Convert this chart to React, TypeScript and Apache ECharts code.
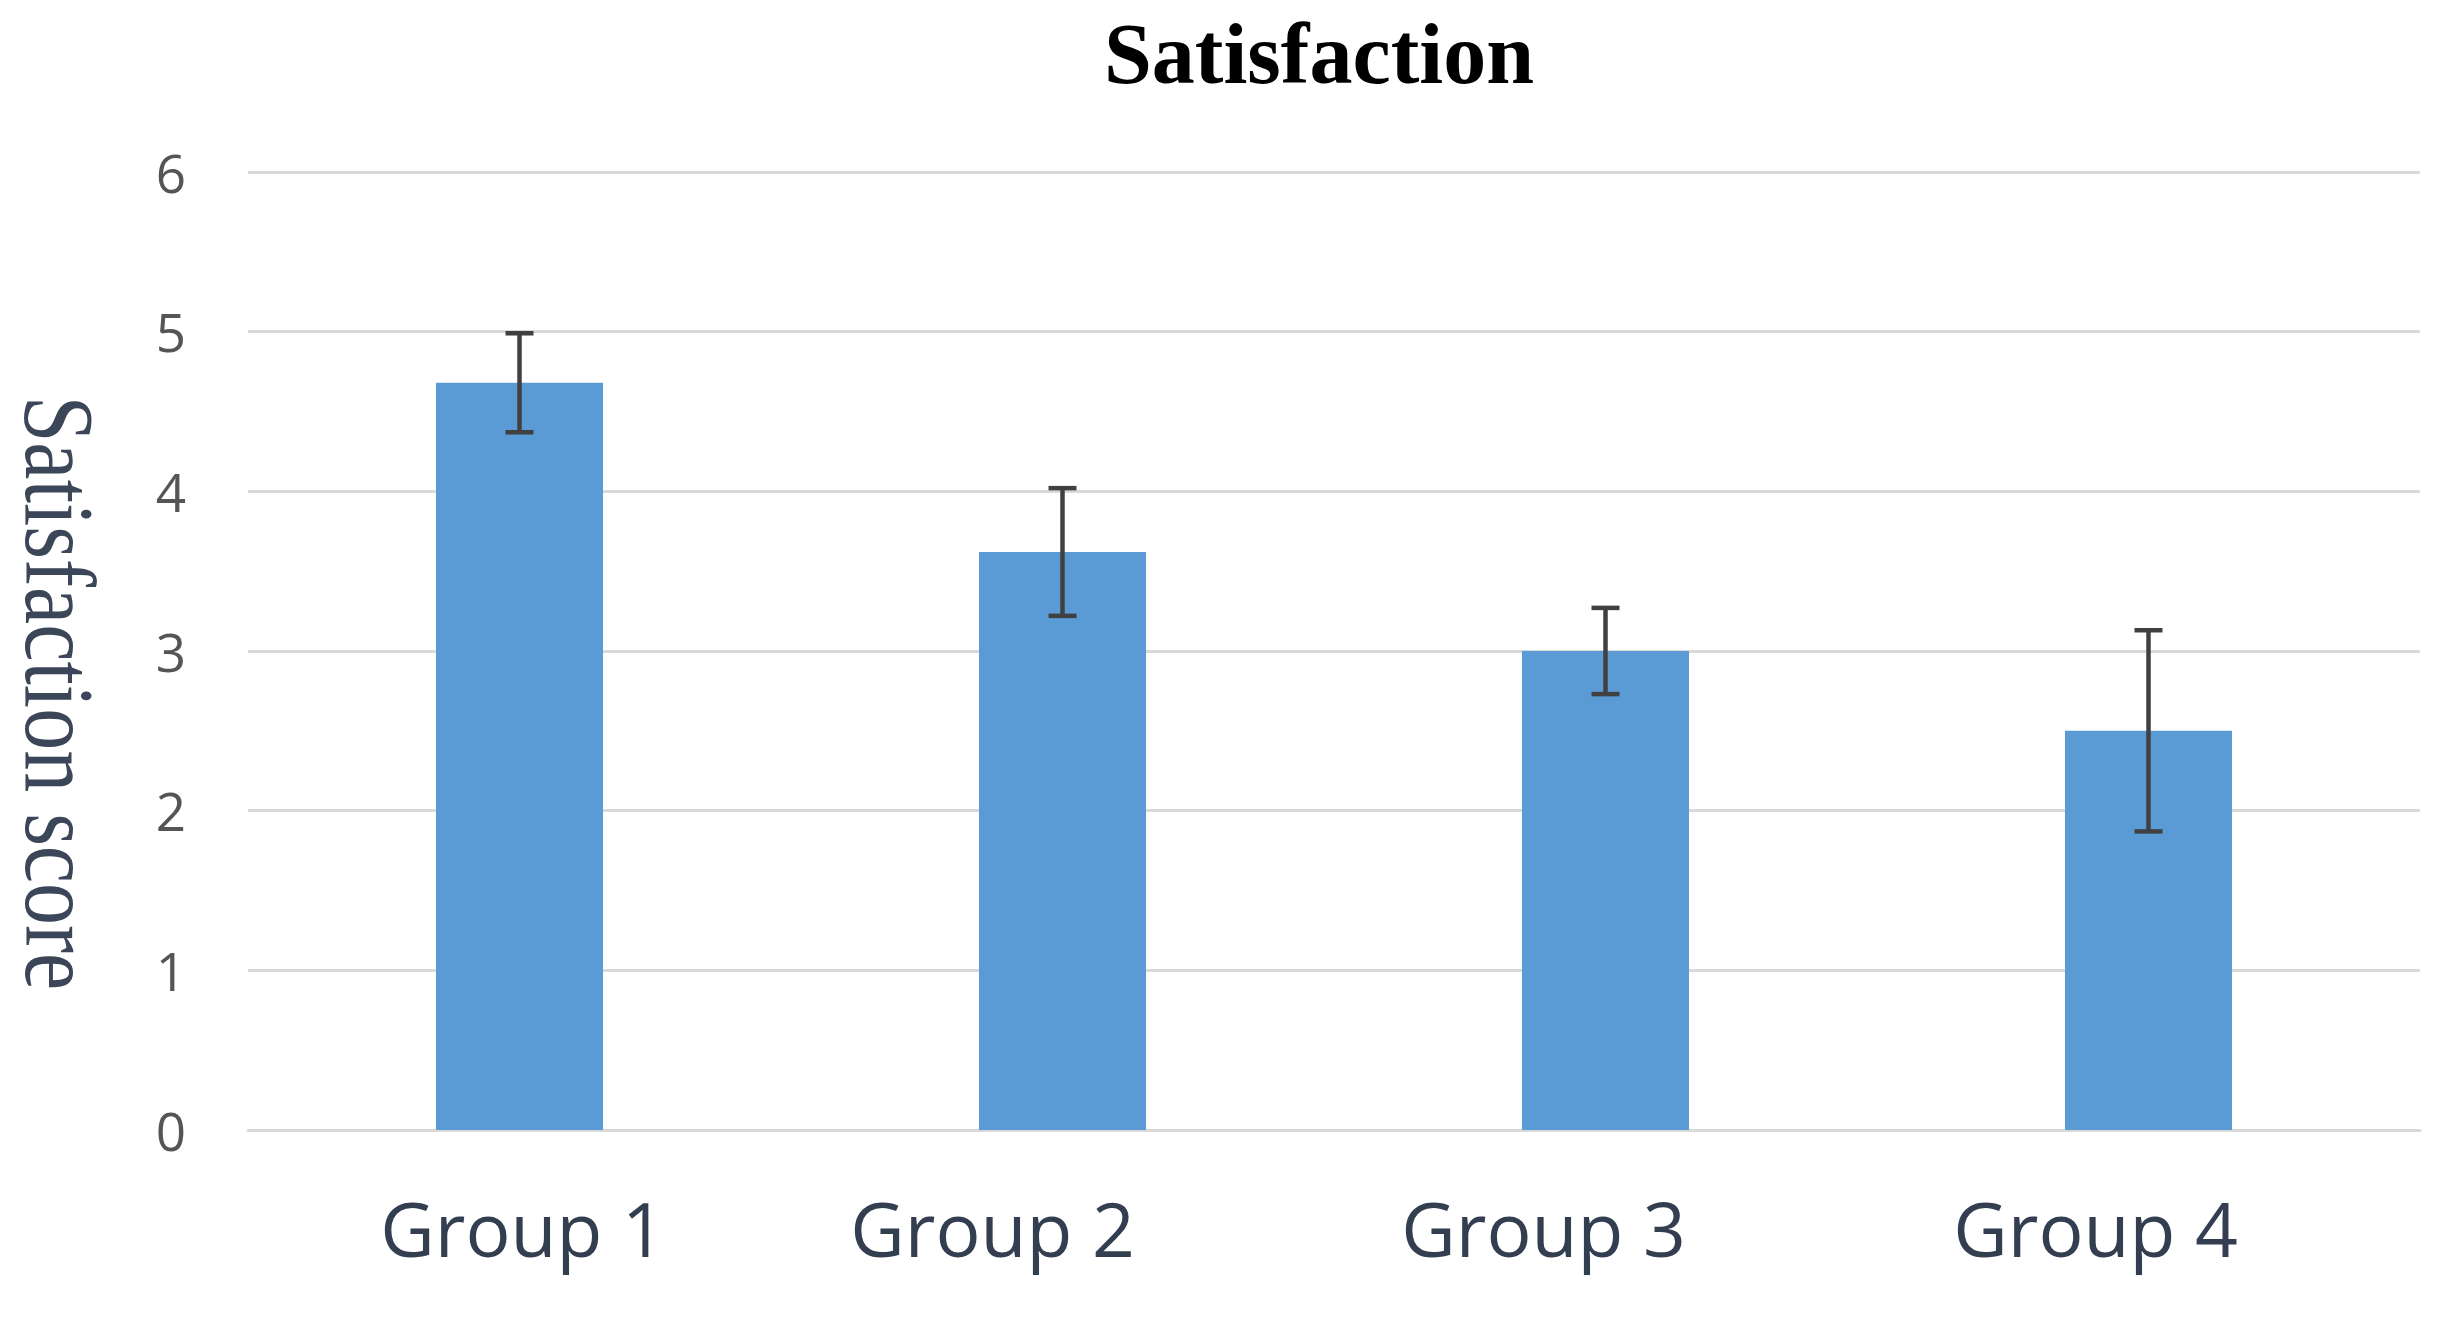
import React, { useEffect, useRef } from "react";
import * as echarts from "echarts";

const categories = ["Group 1", "Group 2", "Group 3", "Group 4"];
const meanScores = [4.68, 3.62, 3.0, 2.5];
const errorMargins = [0.31, 0.4, 0.27, 0.63];
const yTicks = [0, 1, 2, 3, 4, 5, 6];
const chartTitle = "Satisfaction";
const yAxisTitle = "Satisfaction score";

// horizontal nudge (px) of each category label relative to its bar, as in the original figure
const labelNudges = [3, -70, -62, -53];

export default function App() {
  const ref = useRef<HTMLDivElement>(null);

  useEffect(() => {
    document.body.style.margin = "0";
    if (!ref.current) return;
    const chart = echarts.init(ref.current, null, { renderer: "svg" });

    const errorData = categories.map((_, i) => [
      i,
      meanScores[i] - errorMargins[i],
      meanScores[i] + errorMargins[i],
    ]);

    const labelFont = { fontFamily: "Open Sans", fontSize: 75, color: "#333f50" };
    const rich: any = {};
    labelNudges.forEach((n, i) => {
      rich["l" + i] = {
        ...labelFont,
        padding: n >= 0 ? [0, 0, 0, 2 * n] : [0, -2 * n, 0, 0],
      };
    });

    const option: any = {
      animation: false,
      backgroundColor: "#ffffff",
      title: {
        text: chartTitle,
        left: 1099,
        top: 6,
        textStyle: {
          fontFamily: "Liberation Serif",
          fontWeight: "bold",
          fontSize: 86,
          color: "#000000",
        },
      },
      graphic: [
        {
          type: "text",
          x: 60,
          y: 693,
          rotation: -Math.PI / 2,
          scaleX: 0.84,
          style: {
            text: yAxisTitle,
            font: 'normal 100px "Liberation Serif"',
            fill: "#3b4658",
            textAlign: "center",
            textVerticalAlign: "middle",
          },
        },
      ],
      grid: {
        left: 248,
        right: 20,
        top: 172,
        bottom: 192,
        containLabel: false,
      },
      xAxis: {
        type: "category",
        data: categories,
        axisLine: { show: true, lineStyle: { color: "#d9d9d9", width: 3 } },
        axisTick: { show: false },
        axisLabel: {
          ...labelFont,
          margin: 60,
          interval: 0,
          hideOverlap: false,
          formatter: (value: string, index: number) => `{l${index}|${value}}`,
          rich,
        },
      },
      yAxis: {
        type: "value",
        min: yTicks[0],
        max: yTicks[yTicks.length - 1],
        interval: 1,
        axisLine: { show: false },
        axisTick: { show: false },
        splitLine: { show: true, lineStyle: { color: "#d9d9d9", width: 3 } },
        axisLabel: {
          fontFamily: "Open Sans",
          fontSize: 53,
          color: "#555555",
          margin: 62,
          verticalAlign: "middle",
          padding: [0, 0, 4, 0],
        },
      },
      series: [
        {
          type: "bar",
          data: meanScores,
          barWidth: 167,
          itemStyle: { color: "#5b9bd5" },
          z: 2,
        },
        {
          type: "custom",
          data: errorData,
          z: 5,
          renderItem: (params: any, api: any) => {
            const x = api.value(0);
            const lo = api.coord([x, api.value(1)]);
            const hi = api.coord([x, api.value(2)]);
            const half = 14;
            const style = { stroke: "#404040", lineWidth: 4.5 };
            return {
              type: "group",
              children: [
                { type: "line", shape: { x1: hi[0], y1: hi[1], x2: lo[0], y2: lo[1] }, style },
                { type: "line", shape: { x1: hi[0] - half, y1: hi[1], x2: hi[0] + half, y2: hi[1] }, style },
                { type: "line", shape: { x1: lo[0] - half, y1: lo[1], x2: lo[0] + half, y2: lo[1] }, style },
              ],
            };
          },
        },
      ],
    };

    chart.setOption(option);
    return () => chart.dispose();
  }, []);

  return <div ref={ref} style={{ width: 2440, height: 1322 }} />;
}
